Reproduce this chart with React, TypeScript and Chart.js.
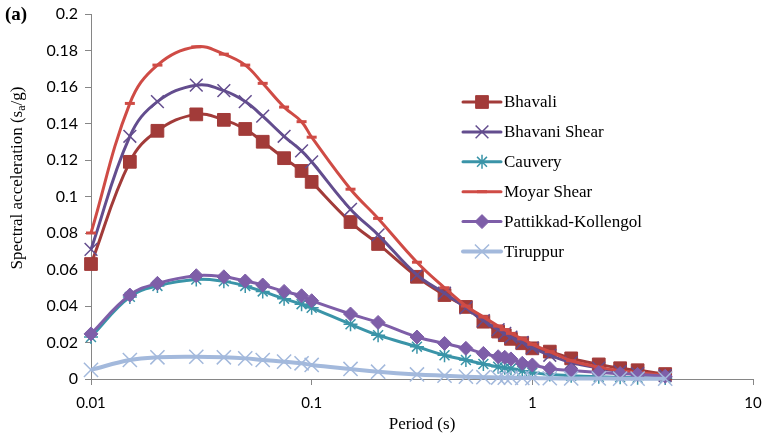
import React, { useEffect, useRef } from "react";
import { Chart, registerables } from "chart.js";

Chart.register(...registerables);

// ---- Data ----
const periods = [0.01, 0.015, 0.02, 0.03, 0.04, 0.05, 0.06, 0.075, 0.09, 0.1, 0.15, 0.2, 0.3, 0.4, 0.5, 0.6, 0.7, 0.75, 0.8, 0.9, 1.0, 1.2, 1.5, 2.0, 2.5, 3.0, 4.0];

const bhavali = [0.063, 0.119, 0.136, 0.145, 0.142, 0.137, 0.130, 0.121, 0.114, 0.108, 0.086, 0.074, 0.056, 0.046, 0.0395, 0.0314, 0.026, 0.024, 0.022, 0.0196, 0.0168, 0.015, 0.0113, 0.0080, 0.0059, 0.0048, 0.0027];
const bhavaniShear = [0.071, 0.133, 0.152, 0.161, 0.158, 0.152, 0.144, 0.133, 0.125, 0.119, 0.093, 0.079, 0.057, 0.047, 0.039, 0.032, 0.027, 0.025, 0.023, 0.020, 0.017, 0.013, 0.009, 0.006, 0.004, 0.003, 0.0018];
const cauvery = [0.023, 0.045, 0.051, 0.0545, 0.0535, 0.051, 0.048, 0.044, 0.041, 0.039, 0.030, 0.024, 0.0177, 0.013, 0.0104, 0.0082, 0.0067, 0.0062, 0.0057, 0.0045, 0.0035, 0.0025, 0.0018, 0.0012, 0.0009, 0.0007, 0.0005];
const moyarShear = [0.080, 0.151, 0.172, 0.182, 0.178, 0.172, 0.162, 0.149, 0.141, 0.1325, 0.104, 0.088, 0.064, 0.050, 0.040, 0.034, 0.029, 0.027, 0.025, 0.022, 0.019, 0.015, 0.010, 0.0065, 0.0045, 0.0035, 0.002];
const pattikkadKollengol = [0.0247, 0.046, 0.0524, 0.0566, 0.056, 0.0537, 0.0515, 0.048, 0.0456, 0.0429, 0.0356, 0.031, 0.023, 0.0195, 0.0168, 0.014, 0.0122, 0.0119, 0.011, 0.0086, 0.0077, 0.0058, 0.0046, 0.0035, 0.003, 0.0025, 0.0015];
const tiruppur = [0.005, 0.0104, 0.0119, 0.0122, 0.0119, 0.0113, 0.0104, 0.0095, 0.0086, 0.0077, 0.0055, 0.004, 0.0025, 0.0018, 0.0013, 0.001, 0.0008, 0.0007, 0.0007, 0.0006, 0.0005, 0.0004, 0.0003, 0.0003, 0.0002, 0.0002, 0.0002];

const seriesNames = ["Bhavali", "Bhavani Shear", "Cauvery", "Moyar Shear", "Pattikkad-Kollengol", "Tiruppur"];
const seriesValues = [bhavali, bhavaniShear, cauvery, moyarShear, pattikkadKollengol, tiruppur];

const xTickValues = [0.01, 0.1, 1, 10];
const yTickValues = [0, 0.02, 0.04, 0.06, 0.08, 0.1, 0.12, 0.14, 0.16, 0.18, 0.2];

const xTitle = "Period (s)";
const yTitleParts = ["Spectral acceleration (s", "a", "/g)"];
const panelLabel = "(a)";

// ---- Styles ----
type Sty = { color: string; style: string; radius: number; lw: number; pbw: number };
const styles: Sty[] = [
  { color: "#A23B39", style: "rect", radius: 9, lw: 3, pbw: 1 },
  { color: "#634D8E", style: "crossRot", radius: 9, lw: 3, pbw: 1.5 },
  { color: "#3A94A8", style: "star", radius: 7, lw: 3, pbw: 1.5 },
  { color: "#CF4B45", style: "line", radius: 5, lw: 3, pbw: 3 },
  { color: "#7E5EA8", style: "rectRot", radius: 7, lw: 3, pbw: 1 },
  { color: "#A3B9DC", style: "crossRot", radius: 10, lw: 4, pbw: 1.5 },
];

const SERIF = "'Liberation Serif', 'Times New Roman', serif";
const SANS = "Lato, 'Open Sans', sans-serif";

function drawMarker(ctx: CanvasRenderingContext2D, s: Sty, x: number, y: number) {
  const r = s.radius;
  ctx.save();
  ctx.fillStyle = s.color;
  ctx.strokeStyle = s.color;
  ctx.lineWidth = s.pbw;
  ctx.beginPath();
  if (s.style === "rect") {
    const h = Math.SQRT1_2 * r;
    ctx.rect(x - h, y - h, 2 * h, 2 * h);
    ctx.fill();
    ctx.stroke();
  } else if (s.style === "rectRot") {
    ctx.moveTo(x - r, y);
    ctx.lineTo(x, y - r);
    ctx.lineTo(x + r, y);
    ctx.lineTo(x, y + r);
    ctx.closePath();
    ctx.fill();
    ctx.stroke();
  } else if (s.style === "crossRot" || s.style === "star") {
    const o = Math.SQRT1_2 * r;
    ctx.moveTo(x - o, y - o);
    ctx.lineTo(x + o, y + o);
    ctx.moveTo(x + o, y - o);
    ctx.lineTo(x - o, y + o);
    if (s.style === "star") {
      ctx.moveTo(x, y - r);
      ctx.lineTo(x, y + r);
      ctx.moveTo(x - r, y);
      ctx.lineTo(x + r, y);
    }
    ctx.stroke();
  } else if (s.style === "line") {
    ctx.moveTo(x - r, y);
    ctx.lineTo(x + r, y);
    ctx.stroke();
  }
  ctx.restore();
}

const overlayPlugin = {
  id: "overlay",
  afterDraw(chart: any) {
    const ctx: CanvasRenderingContext2D = chart.ctx;
    // Legend
    const x0 = 463;
    const x1 = 501;
    const rowY0 = 102;
    const rowStep = 29.9;
    ctx.save();
    seriesNames.forEach((name, i) => {
      const s = styles[i];
      const y = rowY0 + i * rowStep;
      ctx.save();
      ctx.strokeStyle = s.color;
      ctx.lineWidth = s.lw;
      ctx.lineCap = "round";
      ctx.beginPath();
      ctx.moveTo(x0, y);
      ctx.lineTo(x1, y);
      ctx.stroke();
      ctx.restore();
      drawMarker(ctx, s, (x0 + x1) / 2, y);
      ctx.fillStyle = "#000";
      ctx.font = `17px ${SERIF}`;
      ctx.textAlign = "left";
      ctx.textBaseline = "middle";
      ctx.fillText(name, x1 + 3, y + 1);
    });
    ctx.restore();

    // Y axis title with subscript
    ctx.save();
    ctx.translate(18, 178);
    ctx.rotate(-Math.PI / 2);
    ctx.fillStyle = "#000";
    ctx.textBaseline = "middle";
    ctx.textAlign = "left";
    const mainFont = `17px ${SERIF}`;
    const subFont = `12px ${SERIF}`;
    ctx.font = mainFont;
    const w1 = ctx.measureText(yTitleParts[0]).width;
    const w3 = ctx.measureText(yTitleParts[2]).width;
    ctx.font = subFont;
    const w2 = ctx.measureText(yTitleParts[1]).width;
    const total = w1 + w2 + w3;
    let cx = -total / 2;
    ctx.font = mainFont;
    ctx.fillText(yTitleParts[0], cx, 0);
    cx += w1;
    ctx.font = subFont;
    ctx.fillText(yTitleParts[1], cx, 4);
    cx += w2;
    ctx.font = mainFont;
    ctx.fillText(yTitleParts[2], cx, 0);
    ctx.restore();

    // Panel label
    ctx.save();
    ctx.fillStyle = "#000";
    ctx.font = `bold 19px ${SERIF}`;
    ctx.textAlign = "left";
    ctx.textBaseline = "middle";
    ctx.fillText(panelLabel, 5, 15);
    ctx.restore();
  },
};

export default function App() {
  const ref = useRef<HTMLCanvasElement>(null);

  useEffect(() => {
    if (!ref.current) return;
    const datasets = seriesNames.map((name, i) => {
      const s = styles[i];
      return {
        label: name,
        data: seriesValues[i],
        borderColor: s.color,
        backgroundColor: s.color,
        borderWidth: s.lw,
        pointStyle: s.style,
        pointRadius: s.radius,
        pointBorderWidth: s.pbw,
        pointBackgroundColor: s.color,
        pointBorderColor: s.color,
        tension: 0.4,
        fill: false,
        clip: false,
        order: -i,
      };
    });

    const chart = new Chart(ref.current, {
      type: "line",
      data: { labels: periods, datasets: datasets as any },
      plugins: [overlayPlugin],
      options: {
        animation: false,
        responsive: false,
        devicePixelRatio: 1,
        events: [],
        layout: { padding: { left: 0, right: 14, top: 14, bottom: 0 } },
        plugins: {
          legend: { display: false },
          tooltip: { enabled: false },
          title: { display: false },
        },
        scales: {
          x: {
            type: "logarithmic",
            min: 0.01,
            max: 10,
            afterBuildTicks: (scale: any) => {
              scale.ticks = xTickValues.map((v) => ({ value: v, major: true }));
            },
            afterFit: (scale: any) => {
              scale.height = 60;
              scale.paddingLeft = 0;
              scale.paddingRight = 0;
              scale.paddingTop = 0;
              scale.paddingBottom = 0;
            },
            grid: {
              display: true,
              drawOnChartArea: false,
              drawTicks: true,
              tickLength: 6,
              color: "#868686",
            },
            border: { display: true, color: "#868686", width: 1 },
            ticks: {
              autoSkip: false,
              maxRotation: 0,
              padding: 9,
              color: "#000",
              font: { family: SANS, size: 15 },
              callback: (v: any) => String(+Number(v).toPrecision(3)),
            },
            title: {
              display: true,
              text: xTitle,
              color: "#000",
              font: { family: SERIF, size: 17 },
              padding: { top: 0, bottom: 4 },
            },
          },
          y: {
            type: "linear",
            min: 0,
            max: 0.2,
            afterBuildTicks: (scale: any) => {
              scale.ticks = yTickValues.map((v) => ({ value: v }));
            },
            afterFit: (scale: any) => {
              scale.width = 91;
              scale.paddingLeft = 0;
              scale.paddingRight = 0;
              scale.paddingTop = 0;
              scale.paddingBottom = 0;
            },
            grid: {
              display: true,
              drawOnChartArea: false,
              drawTicks: true,
              tickLength: 6,
              color: "#868686",
            },
            border: { display: true, color: "#868686", width: 1 },
            ticks: {
              autoSkip: false,
              padding: 7,
              color: "#000",
              font: { family: SANS, size: 16 },
              callback: (v: any) => String(+Number(v).toFixed(2)),
            },
          },
        },
      } as any,
    });
    return () => chart.destroy();
  }, []);

  return (
    <div style={{ position: "fixed", left: 0, top: 0, width: 767, height: 439, background: "#fff" }}>
      <canvas ref={ref} width={767} height={439} style={{ display: "block", width: 767, height: 439 }} />
    </div>
  );
}
